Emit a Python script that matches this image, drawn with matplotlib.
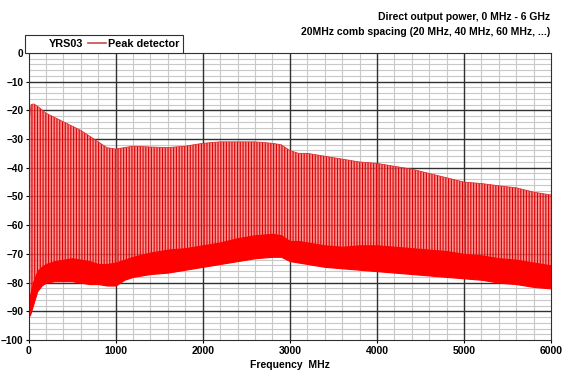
import numpy as np
import matplotlib.pyplot as plt
from matplotlib.lines import Line2D
from matplotlib.ticker import MultipleLocator

plt.rcParams["font.family"] = ["Liberation Sans", "DejaVu Sans"]
plt.rcParams["hatch.linewidth"] = 0.8

# peak envelope of the 20 MHz comb (dBm)
peak_freq = [0, 30, 60, 100, 200, 300, 400, 500, 600, 700, 800, 900, 1000,
             1100, 1200, 1400, 1600, 1800, 2000, 2200, 2400, 2600, 2800,
             2900, 3000, 3100, 3200, 3400, 3600, 3800, 4000, 4200, 4400,
             4600, 4800, 5000, 5200, 5400, 5600, 5800, 6000]
peak_level = [-25, -18, -17.8, -18.5, -21, -22.5, -24, -25.5, -27, -29,
              -31, -33, -33.5, -33, -32.5, -32.8, -33, -32.5, -31.5, -31,
              -31, -31, -31.5, -32, -34, -35, -35, -36, -37, -38, -38.5,
              -39.5, -40.5, -42, -43.5, -45, -45.5, -46.3, -47, -48.5, -49.5]

# noise floor band between the comb lines (dBm)
floor_freq = [0, 20, 50, 100, 150, 200, 300, 400, 500, 600, 700, 800, 900,
              1000, 1100, 1200, 1400, 1600, 1800, 2000, 2200, 2400, 2600,
              2800, 2900, 3000, 3100, 3200, 3400, 3600, 3800, 4000, 4200,
              4400, 4600, 4800, 5000, 5200, 5400, 5600, 5800, 6000]
floor_top = [-88, -84, -80, -76, -74.5, -73.5, -72.5, -72, -71.5, -72,
             -72.5, -73.5, -73.5, -73, -72, -71, -69.5, -68.5, -68, -67,
             -66, -64.5, -63.5, -63, -63.5, -65.5, -65.5, -66, -67, -67.5,
             -67, -67, -67.5, -68, -68.5, -69, -70, -70.5, -71.5, -72,
             -73, -74]
floor_bottom = [-92, -91, -88, -83, -81, -80, -79.5, -79.5, -79.5, -80,
                -80.5, -80.5, -81, -81, -79, -78, -77, -76.5, -75.5, -74.5,
                -73.5, -72.5, -71.5, -71, -71, -72.5, -73, -73.5, -74.5,
                -75, -75.5, -76, -76.5, -77, -77.5, -78, -78.5, -79, -80,
                -80.5, -81.5, -82]

fig = plt.figure(figsize=(5.7, 3.8), dpi=100)
ax = fig.add_axes([0.05, 0.105, 0.917, 0.756])

ax.set_xlim(0, 6000)
ax.set_ylim(-100, 0)
ax.xaxis.set_major_locator(MultipleLocator(1000))
ax.xaxis.set_minor_locator(MultipleLocator(200))
ax.yaxis.set_major_locator(MultipleLocator(10))
ax.yaxis.set_minor_locator(MultipleLocator(2))
ax.grid(which="minor", color="#c8c8c8", linewidth=0.8)
ax.set_axisbelow(True)

# major grid drawn above the minor one
for x in range(1000, 6000, 1000):
    ax.axvline(x, color="#303030", linewidth=1.0, zorder=0.8)
for y in range(-90, 0, 10):
    ax.axhline(y, color="#303030", linewidth=1.0, zorder=0.8)

# comb area: peak envelope down to the noise floor
floor_mid = np.interp(peak_freq, floor_freq, floor_bottom)
ax.fill_between(peak_freq, floor_mid, peak_level,
                facecolor=(1.0, 0.45, 0.45, 0.75),
                edgecolor="#d80000", hatch="||||||", linewidth=0, zorder=1)
ax.plot(peak_freq, peak_level, color="#e03030", linewidth=0.6, zorder=1.1)

# noise floor band
ax.fill_between(floor_freq, floor_bottom, floor_top,
                color="#ff0000", linewidth=0.8, zorder=1.2)

ax.tick_params(which="minor", length=0)
ax.tick_params(which="major", length=2.5, width=0.8, labelsize=7.5, pad=1.5)
ax.tick_params(axis="y", labelsize=7.2, pad=1)
for lbl in ax.get_xticklabels() + ax.get_yticklabels():
    lbl.set_fontweight("bold")
for sp in ax.spines.values():
    sp.set_color("#303030")

ax.set_xlabel("Frequency  MHz", fontsize=7.5, fontweight="bold", labelpad=3)

handles = [Line2D([], [], color="none"),
           Line2D([], [], color="#c0504d", linewidth=1.2)]
leg = ax.legend(handles, ["YRS03", "Peak detector"], ncol=2,
                loc="lower left", bbox_to_anchor=(-0.006, 1.0),
                borderaxespad=0, fancybox=False, framealpha=1,
                edgecolor="#303030", handlelength=1.6, handletextpad=0.2,
                columnspacing=0.5, borderpad=0.35,
                prop={"size": 7.8, "weight": "bold"})
leg.get_frame().set_linewidth(0.8)

fig.text(0.966, 0.955, "Direct output power, 0 MHz - 6 GHz",
         ha="right", va="center", fontsize=7.5, fontweight="bold")
fig.text(0.966, 0.915, "20MHz comb spacing (20 MHz, 40 MHz, 60 MHz, ...)",
         ha="right", va="center", fontsize=7.5, fontweight="bold")

fig.savefig("out.png", dpi=100)
